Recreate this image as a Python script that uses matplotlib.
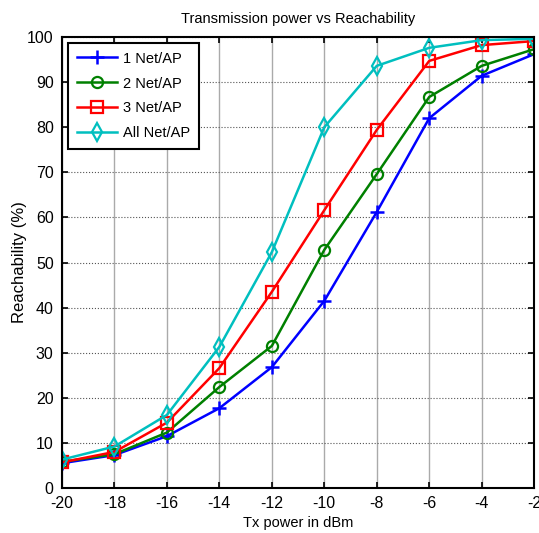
import numpy as np
import matplotlib.pyplot as plt

plt.rcParams['font.family'] = ['Liberation Sans', 'DejaVu Sans']
plt.rcParams['axes.unicode_minus'] = False

# мощность передатчика, дБм
tx_power = [-20, -18, -16, -14, -12, -10, -8, -6, -4, -2]

# достижимость, %
net1 = [5.5, 7.3, 11.5, 17.7, 26.8, 41.5, 61.2, 82.0, 91.4, 96.2]
net2 = [5.8, 7.5, 12.3, 22.4, 31.5, 52.8, 69.6, 86.7, 93.6, 97.3]
net3 = [5.7, 8.0, 14.5, 26.6, 43.5, 61.6, 79.4, 94.7, 98.2, 99.1]
net_all = [6.3, 9.2, 16.2, 31.3, 52.3, 80.0, 93.6, 97.6, 99.3, 99.6]

fig = plt.figure(figsize=(5.39, 5.33), dpi=100)
ax = fig.add_axes([0.115, 0.0844, 0.876, 0.8462])

lw = 1.8
ax.plot(tx_power, net1, color='#0000ff', marker='+', markersize=10, mew=1.8, lw=lw, label='1 Net/AP')
ax.plot(tx_power, net2, color='#008000', marker='o', markersize=8, mfc='none', mew=1.6, lw=lw, label='2 Net/AP')
ax.plot(tx_power, net3, color='#ff0000', marker='s', markersize=8, mfc='none', mew=1.6, lw=lw, label='3 Net/AP')
ax.plot(tx_power, net_all, color='#00bfbf', marker='d', markersize=9, mfc='none', mew=1.6, lw=lw, label='All Net/AP')

ax.set_xlim(-20, -2)
ax.set_ylim(0, 100)
ax.set_xticks(np.arange(-20, -1, 2))
ax.set_yticks(np.arange(0, 101, 10))
ax.tick_params(direction='in', top=True, right=True, labelsize=11.5, length=4, width=1.2, pad=6)
for s in ax.spines.values():
    s.set_linewidth(1.5)

ax.grid(True, color='#555555', linestyle=':', linewidth=0.8)
ax.xaxis.grid(True, color='#aaaaaa', linestyle='-', linewidth=1.0)

ax.set_title('Transmission power vs Reachability', fontsize=10.5, pad=10)
ax.set_xlabel('Tx power in dBm', fontsize=10.5, labelpad=3)
ax.set_ylabel('Reachability (%)', fontsize=12)
ax.yaxis.set_label_coords(-0.074, 0.5)

leg = ax.legend(loc='upper left', fontsize=10.5, fancybox=False, framealpha=1,
                edgecolor='black', borderaxespad=0.4, handlelength=2.8,
                labelspacing=0.75, borderpad=0.6, handletextpad=0.4)
leg.get_frame().set_linewidth(1.5)

fig.savefig('out.png', dpi=100)
